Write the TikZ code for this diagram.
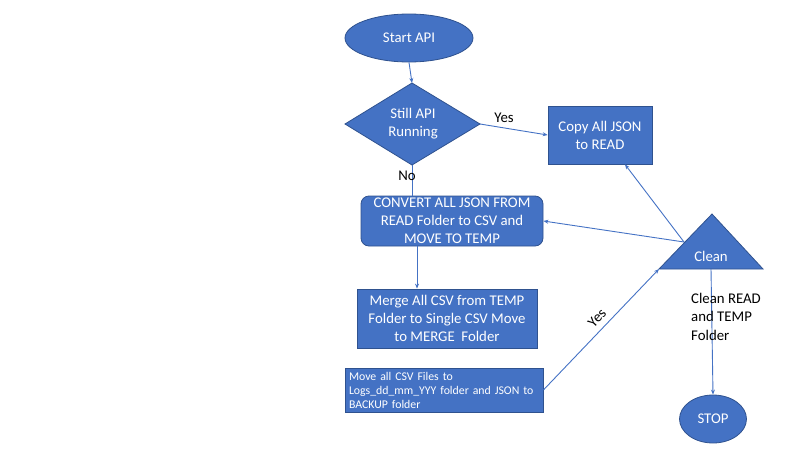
\documentclass[tikz,border=0pt]{standalone}
\usepackage{fontspec}
\setmainfont{Carlito}
\usetikzlibrary{shapes.geometric,arrows.meta}
\definecolor{boxfill}{HTML}{4472C4}
\definecolor{boxline}{HTML}{2F528F}
\definecolor{conn}{HTML}{4472C4}
\tikzset{
  shp/.style={fill=boxfill,draw=boxline,line width=0.8pt,text=white,font=\fontsize{14.8}{18}\selectfont,align=center,inner sep=0pt},
  rectbox/.style={shp,rectangle},
  conn/.style={draw=conn,line width=0.9pt,-{Stealth[length=5pt,width=4pt]}},
  lbl/.style={font=\fontsize{14.8}{18.5}\selectfont,text=black,inner sep=0pt}
}
\begin{document}
\begin{tikzpicture}[x=1pt,y=-1pt]
\useasboundingbox (0,0) rectangle (800,450);
% start
\node[shp,ellipse,minimum width=128pt,minimum height=48pt] (start) at (409,38) {Start API};
% decision
\path[shp] (345,124) -- (412,83) -- (480,124) -- (412,165) -- cycle;
\coordinate (dtop) at (412,83);
\coordinate (dright) at (480,124);
\coordinate (dbot) at (412,165);
\node[text=white,font=\fontsize{14.8}{18}\selectfont,align=center] (dtext) at (413,124) {Still API\\Running};
% copy
\node[rectbox,minimum width=104pt,minimum height=58pt] (copy) at (600,135) {Copy All JSON\\to READ};
% convert
\node[rectbox,rounded corners=8pt,minimum width=182pt,minimum height=50pt] (convert) at (452,221) {CONVERT ALL JSON FROM\\READ Folder to CSV and\\MOVE TO TEMP};
% merge
\node[rectbox,minimum width=180pt,minimum height=59pt] (merge) at (447,318.5) {Merge All CSV from TEMP\\Folder to Single CSV Move\\to MERGE\ \ Folder};
% move
\node[rectbox,minimum width=198pt,minimum height=44pt,align=left,text width=190pt,font=\fontsize{11.8}{14}\selectfont] (move) at (444,390) {Move all CSV Files to\\Logs\_dd\_mm\_YYY folder and JSON to\\BACKUP folder};
% triangle
\path[shp] (659,269) -- (712,214) -- (763,269) -- cycle;
\coordinate (tleft) at (659,269);
\coordinate (tside) at (684,242);
\coordinate (tbot) at (711,269);
\node[text=white,font=\fontsize{14.8}{18}\selectfont] (clean) at (711,256) {Clean};
% stop
\node[shp,ellipse,minimum width=67pt,minimum height=48pt] (stop) at (713,419) {STOP};
% connectors
\draw[conn] (start.south) -- (dtop);
\draw[conn] (dright) -- (copy.west);
\draw[draw=conn,line width=0.9pt] (dbot) -- (convert.north -| dbot);
\draw[conn] ([xshift=-35pt]convert.south) -- ([xshift=-30pt]merge.north);
\draw[conn] (tside) -- (convert.east);
\draw[conn] (tside) -- ([xshift=25pt]copy.south);
\draw[conn] (move.east) -- (tleft);
\node[lbl,rotate=47] (yes2) at (597,318) {Yes};
\draw[conn] (tbot) -- (stop.north);
% labels
\node[lbl] (yes1) at (504,118) {Yes};
\node[lbl] (no1) at (407,176) {No};
\node[lbl,align=left,anchor=north west] (cleanlbl) at (691,293) {Clean READ\\and TEMP\\Folder};
\end{tikzpicture}
\end{document}
